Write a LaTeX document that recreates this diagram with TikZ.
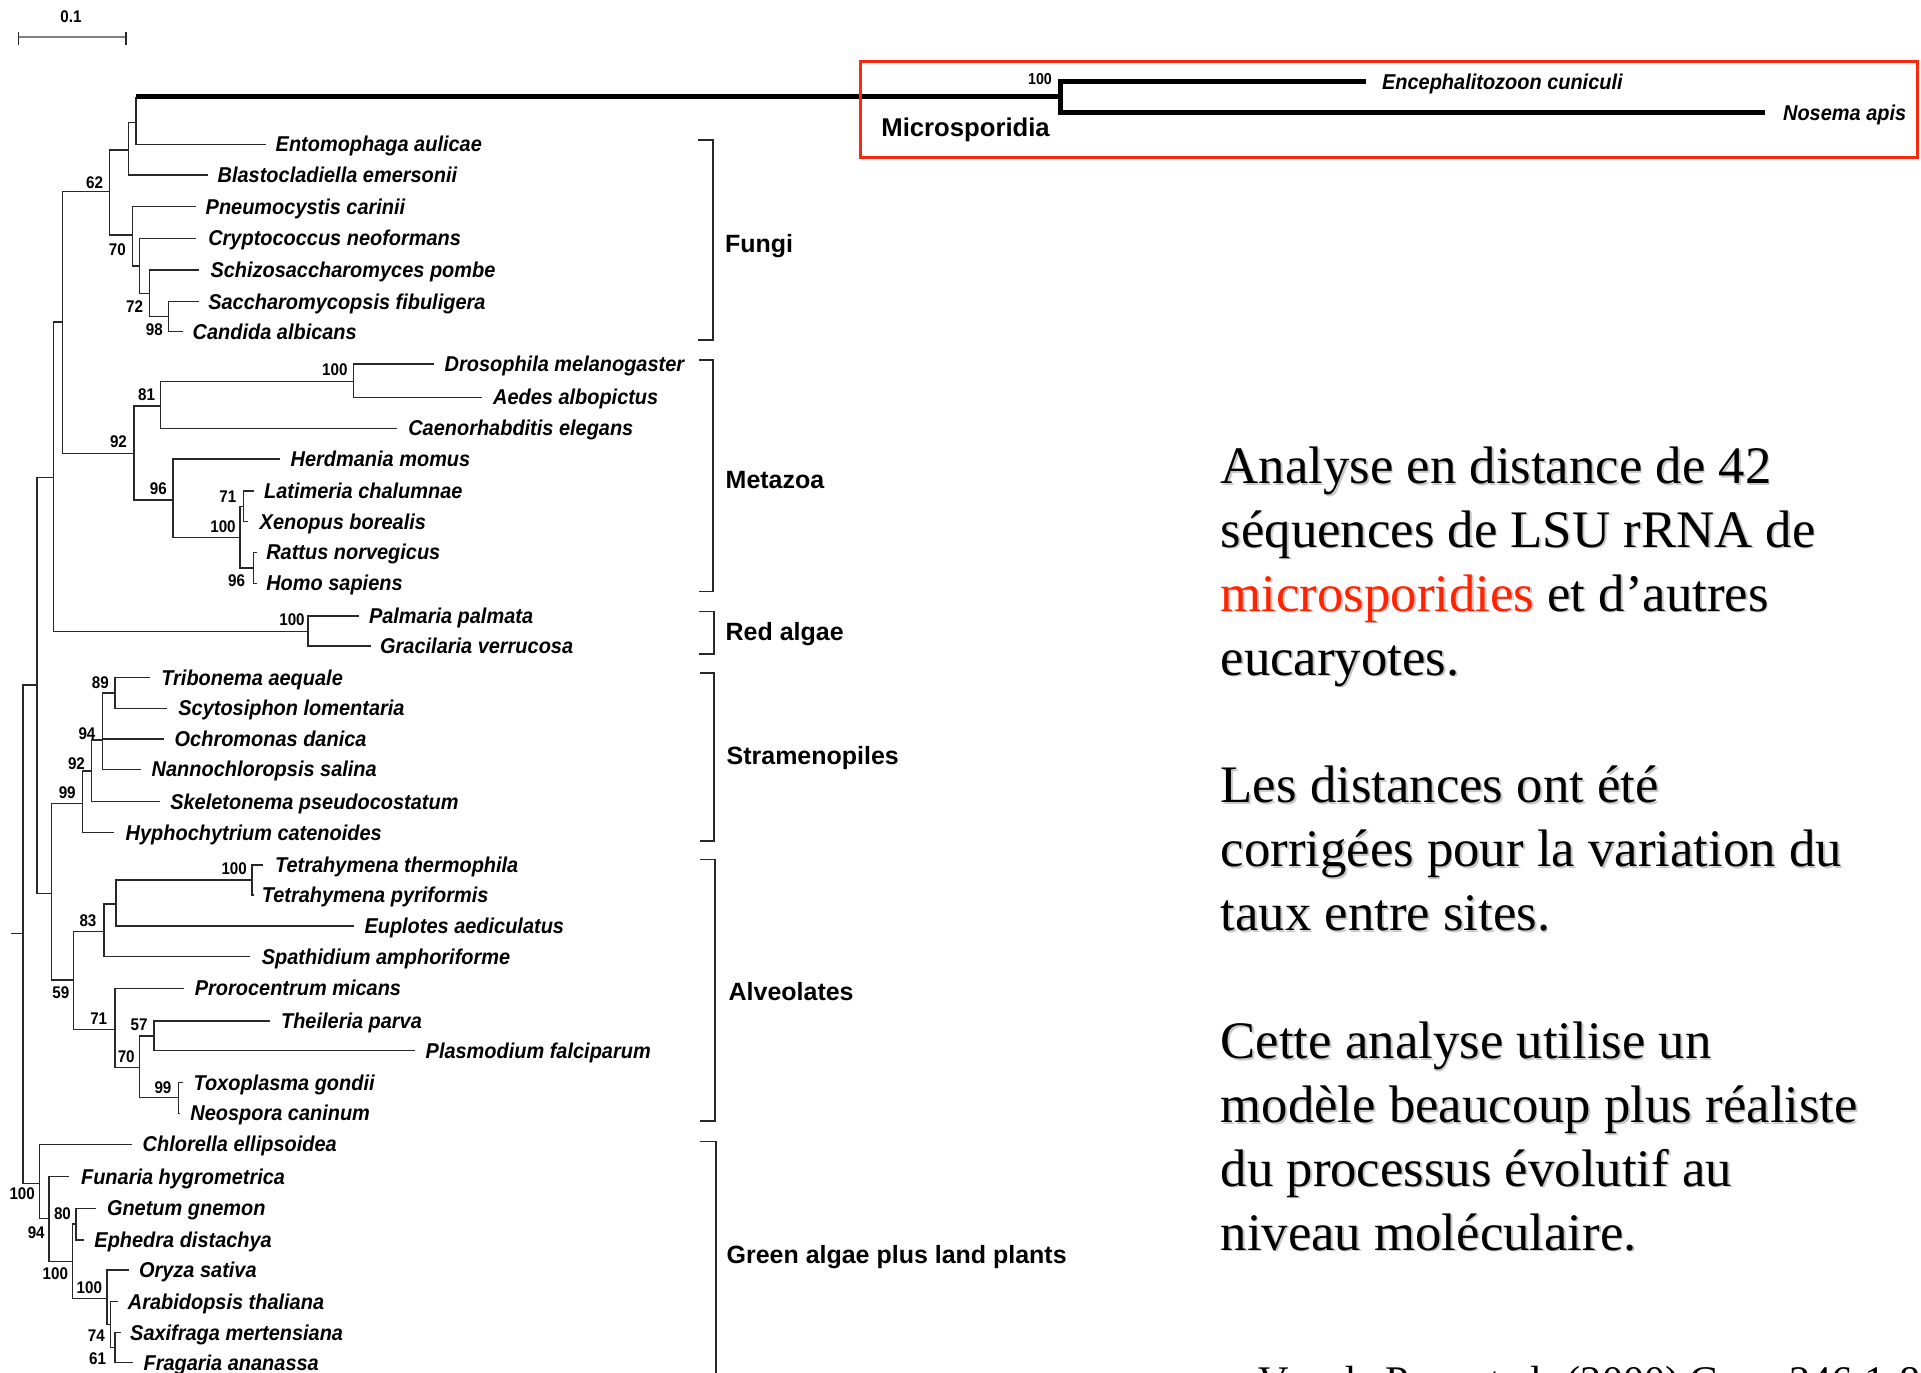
\documentclass[tikz,border=0pt]{standalone}
\usepackage{fontspec}
\setmainfont{Liberation Serif}
\newfontfamily\treefont[FakeStretch=0.93]{Liberation Sans}
\newfontfamily\grpfont{Liberation Sans}
\newfontfamily\numfont[FakeStretch=0.9]{Liberation Sans}
\definecolor{boxred}{RGB}{250,40,15}
\definecolor{txtred}{RGB}{255,35,0}
\definecolor{brc}{RGB}{40,40,40}
\definecolor{shade}{RGB}{200,200,200}
\tikzset{
 br/.style={draw=brc, line width=0.42pt},
 thickbr/.style={draw=black, line width=1.25pt},
 taxon/.style={inner sep=0pt, anchor=base west, yshift=-2.18pt, font=\treefont\bfseries\itshape\fontsize{6.1}{7}\selectfont},
 boot/.style={inner sep=0pt, anchor=center, font=\numfont\bfseries\fontsize{4.8}{5}\selectfont},
 grp/.style={inner sep=0pt, anchor=base west, yshift=-2.54pt, font=\grpfont\bfseries\fontsize{7.1}{8}\selectfont},
 brack/.style={draw=brc, line width=0.5pt},
 body/.style={inner sep=0pt, anchor=base west, font=\fontsize{15}{18}\selectfont},
 bodyshadow/.style={body, text=shade, xshift=0.5pt, yshift=-0.5pt},
}
\newcommand\tleaf[6]{%
 \coordinate (#1) at (#3,#4);
 \draw[br] (#2) |- (#1);
 \node[taxon] (#1-l) at (#5,#4) {#6};
}
\newcommand\inode[4]{%
 \coordinate (#1) at (#3,#4);
 \draw[br] (#2) |- (#1);
}
\newcommand\bodyline[4]{%
 \node[bodyshadow] (#1-s) at (#2,#3) {#4};
}
\begin{document}
\begin{tikzpicture}[x=0.01cm,y=-0.01cm]
\useasboundingbox (0,0) rectangle (1921,1373);
\clip (0,0) rectangle (1921,1373);

% scale bar
\coordinate (sb1) at (18.75,37.3);
\coordinate (sb2) at (126,37.3);
\draw[gray, line width=0.6pt] (sb1) -- (sb2);
\draw[br] ([yshift=1.6pt]sb1) -- ([yshift=-2.2pt]sb1);
\draw[br] ([yshift=1.6pt]sb2) -- ([yshift=-2.2pt]sb2);
\node[boot] (sbl) at (71,17) {0.1};

% root
\coordinate (root) at (11.2,933.3);
\coordinate (nT) at (23.2,933.3);
\draw[br] (root) -- (nT);
\inode{nR}{nT}{37}{685}
\inode{nQ}{nR}{53.6}{477.7}
\inode{nE}{nQ}{62.5}{322}
\inode{nC}{nE}{109.4}{191.7}
\inode{nB}{nC}{128.6}{150}
\inode{nA}{nB}{136}{122.7}

% Microsporidia
\coordinate (mA) at (136,96.7);
\coordinate (nMic) at (1060.4,96.7);
\coordinate (ence) at (1365.7,81.7);
\coordinate (nose) at (1765.3,112.7);
\draw[br] (nA) -- (mA);
\draw[thickbr] (mA) -- (nMic);
\draw[thickbr] (ence) -| (nMic) |- (nose);
\node[taxon] (ence-l) at (1381.4,81.7) {Encephalitozoon cuniculi};
\node[taxon] (nose-l) at (1782.4,112.7) {Nosema apis};
\node[boot, font=\numfont\bfseries\fontsize{4.5}{5}\selectfont] (bMic) at (1040,79) {100};
\node[inner sep=0pt, anchor=base west, yshift=-2.7pt, font=\grpfont\bfseries\fontsize{7.3}{9}\selectfont] (micl) at (880.7,126.7) {Microsporidia};
\draw[boxred, line width=0.85pt] (860,61.7) rectangle (1917,157.3);

% Fungi
\tleaf{Ento}{nA}{266}{144.3}{275}{Entomophaga aulicae}
\tleaf{Blas}{nB}{207.6}{175}{217}{Blastocladiella emersonii}
\inode{nD}{nC}{132.6}{235}
\tleaf{Pneu}{nD}{196.4}{206.7}{205}{Pneumocystis carinii}
\inode{nF}{nD}{139.7}{266}
\tleaf{Cryp}{nF}{196.4}{238.3}{207.6}{Cryptococcus neoformans}
\inode{nG}{nF}{149.6}{293.3}
\tleaf{Schi}{nG}{198.7}{270}{209.8}{Schizosaccharomyces pombe}
\inode{nH}{nG}{168.75}{316.7}
\tleaf{Sacc}{nH}{198.7}{301.7}{207.6}{Saccharomycopsis fibuligera}
\tleaf{Cand}{nH}{183}{331.7}{192}{Candida albicans}

% Metazoa
\inode{nI}{nE}{134}{453.3}
\inode{nJ}{nI}{160.7}{406}
\inode{nK}{nJ}{353.6}{381.7}
\tleaf{Dros}{nK}{434}{364}{444}{Drosophila melanogaster}
\tleaf{Aede}{nK}{482}{397.3}{492.4}{Aedes albopictus}
\tleaf{Caen}{nJ}{397.3}{428.3}{407.6}{Caenorhabditis elegans}
\inode{nL}{nI}{173.2}{500}
\tleaf{Herd}{nL}{280}{459}{290}{Herdmania momus}
\inode{nM}{nL}{240.2}{537.7}
\inode{nN}{nM}{243.3}{506.4}
\tleaf{Lati}{nN}{253.6}{491}{263.4}{Latimeria chalumnae}
\tleaf{Xeno}{nN}{248.2}{521.7}{259}{Xenopus borealis}
\inode{nO}{nM}{253.6}{567.8}
\tleaf{Ratt}{nO}{257}{552.3}{265.6}{Rattus norvegicus}
\tleaf{Homo}{nO}{257}{583.3}{265.6}{Homo sapiens}

% Red algae
\inode{nP}{nQ}{308}{631.7}
\tleaf{Palm}{nP}{359.4}{616}{368.3}{Palmaria palmata}
\tleaf{Grac}{nP}{370.5}{646}{379.5}{Gracilaria verrucosa}

% Stramenopiles
\inode{nS}{nR}{51.3}{893.3}
\inode{nV}{nS}{82.6}{803.3}
\inode{nW}{nV}{91.5}{771}
\inode{nX}{nW}{102.7}{740}
\inode{nY}{nX}{115.2}{693}
\tleaf{Trib}{nY}{149.6}{677.7}{160.7}{Tribonema aequale}
\tleaf{Scyt}{nY}{167.4}{708.3}{177.7}{Scytosiphon lomentaria}
\tleaf{Ochr}{nX}{164.3}{739}{174}{Ochromonas danica}
\tleaf{Nann}{nX}{140.6}{769.3}{151}{Nannochloropsis salina}
\tleaf{Skel}{nW}{159.8}{801.7}{169.6}{Skeletonema pseudocostatum}
\tleaf{Hyph}{nV}{113.8}{832.7}{125}{Hyphochytrium catenoides}

% Alveolates
\inode{nZ}{nS}{73.7}{980}
\inode{nAA}{nZ}{104}{931.7}
\inode{nAB}{nAA}{116}{904}
\inode{nAC}{nAB}{252.2}{880}
\tleaf{Tthe}{nAC}{263.4}{865}{274.5}{Tetrahymena thermophila}
\tleaf{Tpyr}{nAC}{253.5}{895}{261.2}{Tetrahymena pyriformis}
\tleaf{Eupl}{nAB}{353.6}{926}{363.8}{Euplotes aediculatus}
\tleaf{Spat}{nAA}{250}{956.7}{261.2}{Spathidium amphoriforme}
\inode{nAD}{nZ}{115.2}{1029.3}
\tleaf{Pror}{nAD}{184}{988.3}{194.2}{Prorocentrum micans}
\inode{nAE}{nAD}{139.7}{1067.3}
\inode{nAF}{nAE}{154}{1036}
\tleaf{Thei}{nAF}{270}{1021}{280.4}{Theileria parva}
\tleaf{Plas}{nAF}{415.2}{1050.7}{425}{Plasmodium falciparum}
\inode{nAG}{nAE}{178.6}{1097.3}
\tleaf{Toxo}{nAG}{183}{1082.7}{192.9}{Toxoplasma gondii}
\tleaf{Neos}{nAG}{179.6}{1113.3}{189.7}{Neospora caninum}

% Green algae plus land plants
\inode{nAH}{nT}{39.3}{1183.3}
\tleaf{Chlo}{nAH}{131.7}{1144.3}{142}{Chlorella ellipsoidea}
\inode{nAI}{nAH}{49.1}{1218.3}
\tleaf{Funa}{nAI}{69.2}{1176.7}{80.4}{Funaria hygrometrica}
\inode{nAK}{nAI}{72.3}{1261.7}
\inode{nAJ}{nAK}{75.9}{1224}
\tleaf{Gnet}{nAJ}{96}{1208.3}{106.3}{Gnetum gnemon}
\tleaf{Ephe}{nAJ}{84}{1240}{93.75}{Ephedra distachya}
\inode{nAL}{nAK}{107.1}{1298.3}
\tleaf{Oryz}{nAL}{128.6}{1270}{138.4}{Oryza sativa}
\inode{nAM}{nAL}{110.7}{1324.7}
\tleaf{Arab}{nAM}{118.3}{1301.7}{127.2}{Arabidopsis thaliana}
\inode{nAN}{nAM}{115.2}{1347.7}
\tleaf{Saxi}{nAN}{120.5}{1332.7}{129.5}{Saxifraga mertensiana}
\tleaf{Frag}{nAN}{132.6}{1362.7}{142.9}{Fragaria ananassa}

% bootstrap values
\node[boot] (b1) at (94.6,182.7) {62};
\node[boot] (b2) at (117.4,250) {70};
\node[boot] (b3) at (134.5,306.2) {72};
\node[boot] (b4) at (154.3,330) {98};
\node[boot] (b5) at (334.8,369.3) {100};
\node[boot] (b6) at (146.6,395) {81};
\node[boot] (b7) at (118.5,441.5) {92};
\node[boot] (b8) at (158.4,488.5) {96};
\node[boot] (b9) at (227.8,496.5) {71};
\node[boot] (b10) at (223,526.7) {100};
\node[boot] (b11) at (236.5,580.3) {96};
\node[boot] (b12) at (292,620) {100};
\node[boot] (b13) at (100.4,683) {89};
\node[boot] (b14) at (87,733.5) {94};
\node[boot] (b15) at (76.5,763.2) {92};
\node[boot] (b16) at (67.2,793) {99};
\node[boot] (b17) at (234.2,869) {100};
\node[boot] (b18) at (88,920.4) {83};
\node[boot] (b19) at (60.8,992.7) {59};
\node[boot] (b20) at (98.7,1018.2) {71};
\node[boot] (b21) at (139,1024.5) {57};
\node[boot] (b22) at (126.2,1056.4) {70};
\node[boot] (b23) at (163,1087.5) {99};
\node[boot] (b24) at (22.2,1194) {100};
\node[boot] (b25) at (62.5,1213.2) {80};
\node[boot] (b26) at (36.2,1233) {94};
\node[boot] (b27) at (55.4,1273.2) {100};
\node[boot] (b28) at (89.3,1288) {100};
\node[boot] (b29) at (96.4,1336) {74};
\node[boot] (b30) at (97.6,1359) {61};

% group brackets and labels
\draw[brack] (698.3,140) -- (712.7,140) -- (712.7,339.8) -- (698.3,339.8);
\draw[brack] (699,359.8) -- (713.3,359.8) -- (713.3,591.6) -- (699,591.6);
\draw[brack] (699,611.6) -- (714,611.6) -- (714,654) -- (699,654);
\draw[brack] (700,673) -- (714.3,673) -- (714.3,841) -- (700,841);
\draw[brack] (700,859.4) -- (715,859.4) -- (715,1120.8) -- (700,1120.8);
\draw[brack] (700,1141.6) -- (715.7,1141.6) -- (715.7,1400);
\node[grp] (gFungi) at (724.3,243.9) {Fungi};
\node[grp] (gMeta) at (725,479.7) {Metazoa};
\node[grp] (gRed) at (725,631.6) {Red algae};
\node[grp] (gStra) at (726,755.5) {Stramenopiles};
\node[grp] (gAlve) at (728,991.3) {Alveolates};
\node[grp] (gGreen) at (726,1255) {Green algae plus land plants};

% explanatory text: soft shadow first, then the text
\bodyline{p1}{1220}{483.3}{Analyse en distance de 42}
\bodyline{p2}{1220}{547.2}{séquences de LSU rRNA de}
\bodyline{p3}{1220}{611.1}{microsporidies et d’autres}
\bodyline{p4}{1220}{675}{eucaryotes.}
\bodyline{p5}{1220}{802.8}{Les distances ont été}
\bodyline{p6}{1220}{866.7}{corrigées pour la variation du}
\bodyline{p7}{1220}{930.6}{taux entre sites.}
\bodyline{p8}{1220}{1058.4}{Cette analyse utilise un}
\bodyline{p9}{1220}{1122.3}{modèle beaucoup plus réaliste}
\bodyline{p10}{1220}{1186.2}{du processus évolutif au}
\bodyline{p11}{1220}{1250.1}{niveau moléculaire.}
\node[body] (p1) at (1220,483.3) {Analyse en distance de 42};
\node[body] (p2) at (1220,547.2) {séquences de LSU rRNA de};
\node[body] (p3) at (1220,611.1) {{\color{txtred}microsporidies} et d’autres};
\node[body] (p4) at (1220,675) {eucaryotes.};
\node[body] (p5) at (1220,802.8) {Les distances ont été};
\node[body] (p6) at (1220,866.7) {corrigées pour la variation du};
\node[body] (p7) at (1220,930.6) {taux entre sites.};
\node[body] (p8) at (1220,1058.4) {Cette analyse utilise un};
\node[body] (p9) at (1220,1122.3) {modèle beaucoup plus réaliste};
\node[body] (p10) at (1220,1186.2) {du processus évolutif au};
\node[body] (p11) at (1220,1250.1) {niveau moléculaire.};
\node[body, font=\fontsize{12}{14}\selectfont] (cite) at (1258,1395) {Van de Peer et al. (2000) Gene 246:1-8};
\end{tikzpicture}
\end{document}
